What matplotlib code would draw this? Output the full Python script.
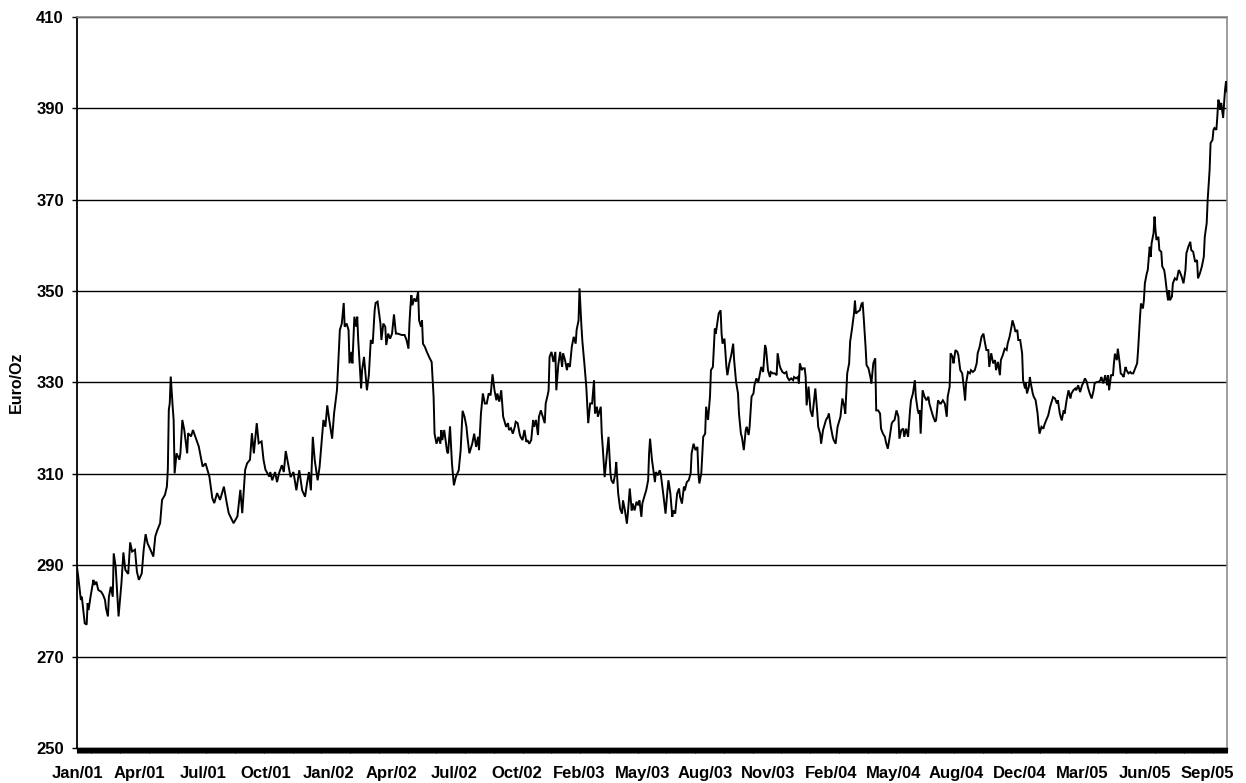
import matplotlib
matplotlib.use("Agg")
import matplotlib.pyplot as plt
import numpy as np

# ---------------- data ----------------
# trading-day index since the first fixing of Jan 2001, and gold price in EUR/oz
trade_day = [
    0, 1, 4, 5, 8, 10, 11, 12, 14, 17, 18, 20, 22, 25, 27, 29, 30, 32, 33, 35, 37, 38, 40, 42, 43,
    46, 48, 50, 53, 55, 57, 60, 62, 64, 67, 69, 71, 73, 76, 79, 81, 83, 86, 88, 91, 93, 94, 95, 96,
    97, 99, 100, 101, 103, 106, 107, 109, 111, 114, 115, 118, 120, 123, 126, 130, 133, 137, 140,
    142, 145, 148, 152, 155, 157, 162, 166, 169, 171, 174, 176, 179, 181, 183, 186, 188, 191, 193,
    195, 199, 200, 202, 205, 207, 209, 212, 214, 216, 219, 221, 224, 227, 230, 233, 236, 238, 240,
    242, 244, 246, 249, 251, 255, 257, 259, 261, 264, 266, 269, 270, 272, 274, 276, 277, 279, 281,
    282, 284, 285, 287, 289, 290, 291, 294, 295, 297, 300, 302, 304, 306, 308, 309, 311, 313, 314,
    315, 317, 319, 320, 322, 324, 326, 328, 330, 332, 336, 339, 341, 343, 344, 345, 346, 347, 349,
    351, 353, 354, 356, 357, 358, 360, 362, 365, 367, 369, 370, 372, 374, 376, 377, 378, 380, 383,
    384, 386, 388, 390, 392, 395, 397, 399, 401, 403, 404, 406, 408, 409, 411, 413, 415, 416, 418,
    420, 422, 424, 426, 428, 430, 432, 434, 435, 437, 439, 441, 442, 444, 446, 447, 449, 451, 453,
    454, 456, 458, 459, 461, 463, 465, 466, 468, 470, 472, 473, 475, 477, 478, 480, 482, 484, 485,
    487, 488, 489, 491, 493, 495, 496, 498, 500, 502, 503, 505, 507, 508, 510, 512, 514, 516, 517,
    519, 520, 522, 523, 525, 527, 529, 531, 533, 535, 536, 538, 539, 542, 543, 544, 546, 548, 550,
    552, 553, 555, 557, 558, 560, 562, 564, 565, 567, 569, 570, 572, 574, 575, 577, 579, 581, 582,
    584, 585, 587, 589, 591, 592, 593, 595, 596, 598, 599, 601, 603, 604, 607, 609, 611, 612, 614,
    616, 617, 619, 621, 623, 624, 626, 628, 629, 631, 633, 635, 636, 638, 640, 642, 643, 644, 646,
    648, 650, 651, 653, 655, 656, 658, 660, 661, 663, 664, 666, 667, 668, 670, 672, 673, 675, 677,
    679, 680, 682, 684, 685, 687, 688, 690, 692, 693, 695, 696, 698, 700, 701, 703, 705, 706, 708,
    710, 712, 713, 715, 717, 718, 720, 722, 724, 725, 727, 728, 730, 732, 734, 735, 737, 739, 741,
    742, 744, 746, 747, 748, 750, 751, 753, 754, 755, 757, 759, 761, 762, 764, 766, 767, 769, 770,
    772, 773, 775, 777, 778, 780, 782, 783, 785, 787, 789, 790, 792, 794, 795, 797, 799, 800, 802,
    804, 805, 806, 808, 810, 812, 813, 814, 816, 817, 819, 821, 822, 824, 826, 827, 829, 831, 832,
    834, 836, 837, 839, 841, 843, 844, 846, 848, 850, 851, 853, 855, 856, 858, 860, 862, 863, 865,
    867, 868, 870, 871, 872, 873, 875, 877, 879, 881, 882, 884, 886, 888, 889, 891, 893, 894, 896,
    898, 900, 901, 903, 904, 906, 907, 909, 911, 912, 914, 916, 918, 919, 920, 922, 924, 925, 927,
    929, 931, 932, 934, 936, 938, 939, 941, 943, 944, 946, 948, 950, 951, 953, 955, 956, 958, 960,
    962, 963, 965, 967, 968, 970, 971, 973, 974, 976, 978, 979, 981, 982, 983, 985, 986, 987, 989,
    990, 992, 994, 995, 996, 998, 1000, 1001, 1003, 1005, 1007, 1009, 1010, 1012, 1014, 1015, 1017,
    1019, 1021, 1022, 1024, 1026, 1028, 1029, 1031, 1033, 1034, 1036, 1038, 1040, 1041, 1043, 1045,
    1046, 1048, 1050, 1052, 1053, 1055, 1057, 1059, 1060, 1062, 1064, 1066, 1067, 1068, 1070, 1072,
    1073, 1074, 1076, 1077, 1079, 1080, 1082, 1083, 1085, 1086, 1088, 1090, 1091, 1093, 1095, 1097,
    1098, 1099, 1100, 1101, 1103, 1104, 1105, 1107, 1108, 1110, 1111, 1112, 1114, 1115, 1116, 1117,
    1119, 1120, 1122, 1123, 1125, 1126, 1128, 1129, 1130, 1131, 1133, 1134, 1136, 1138, 1140, 1141,
    1143, 1145, 1147, 1148, 1150, 1152, 1153, 1155, 1157, 1159, 1160, 1162, 1164, 1166, 1167, 1169,
    1170, 1172, 1173, 1175, 1176, 1177, 1179, 1180, 1181, 1182, 1183, 1184, 1186, 1187, 1188, 1189,
    1190,
]

eur_per_oz = [
    289.5, 288.0, 282.4, 283.1, 277.3, 277.0, 281.7, 280.2, 283.1, 286.8, 285.7, 286.4, 284.6, 284.2,
    283.5, 282.4, 280.6, 278.8, 283.1, 285.3, 283.1, 292.6, 289.7, 282.4, 278.8, 286.1, 292.8, 289.0,
    288.1, 295.0, 293.0, 293.4, 288.6, 286.8, 288.2, 293.4, 296.8, 294.8, 293.4, 291.9, 296.3, 297.6,
    299.2, 304.3, 305.4, 307.2, 310.9, 324.0, 325.5, 331.3, 324.7, 321.8, 310.1, 314.5, 313.1, 314.5,
    321.8, 319.6, 314.5, 318.9, 318.2, 319.6, 317.8, 316.0, 311.6, 312.3, 309.4, 304.7, 303.6, 305.8,
    304.3, 307.2, 303.6, 301.4, 299.2, 300.7, 306.5, 301.4, 310.9, 312.3, 313.1, 318.9, 314.5, 321.1,
    316.7, 317.1, 313.1, 310.9, 309.4, 310.4, 308.6, 310.4, 308.2, 310.1, 311.9, 310.4, 315.0, 311.5,
    309.3, 310.4, 306.4, 310.8, 306.4, 305.0, 307.9, 310.4, 306.4, 318.1, 313.0, 308.6, 311.5, 321.8,
    320.3, 325.0, 321.8, 317.7, 323.2, 328.3, 332.7, 341.5, 342.9, 347.4, 342.2, 342.9, 341.5, 334.2,
    336.7, 334.2, 344.4, 342.2, 344.4, 339.3, 328.7, 332.7, 335.6, 328.3, 331.6, 339.3, 338.5, 345.8,
    347.4, 347.7, 344.4, 342.9, 339.3, 342.9, 342.2, 338.2, 340.7, 339.6, 340.7, 344.9, 340.7, 340.7,
    340.4, 340.4, 339.3, 337.4, 342.9, 346.6, 349.1, 346.9, 348.4, 347.7, 349.9, 343.6, 342.2, 343.6,
    338.5, 337.8, 336.7, 335.3, 334.5, 326.9, 318.8, 316.6, 318.1, 316.6, 319.6, 317.4, 319.6, 314.8,
    314.5, 320.4, 312.3, 307.5, 309.3, 310.8, 315.2, 323.8, 322.5, 320.3, 318.1, 314.5, 315.9, 316.6,
    318.8, 315.9, 318.1, 315.2, 323.2, 327.6, 325.4, 325.4, 327.6, 327.2, 331.8, 328.3, 326.1, 327.6,
    325.8, 328.3, 322.5, 321.8, 320.3, 321.1, 319.6, 320.0, 318.8, 320.3, 321.4, 321.1, 318.8, 318.1,
    317.4, 319.6, 317.0, 317.4, 316.6, 317.4, 321.8, 320.3, 321.8, 318.5, 322.5, 323.9, 322.5, 321.1,
    325.4, 327.2, 328.3, 335.6, 336.7, 334.5, 336.7, 328.3, 333.8, 336.7, 333.4, 336.4, 334.9, 332.7,
    334.2, 333.4, 337.8, 340.0, 338.5, 341.5, 343.6, 350.6, 342.2, 338.9, 334.2, 329.1, 321.1, 325.4,
    325.4, 330.5, 323.2, 324.7, 322.5, 324.7, 318.8, 315.9, 309.3, 313.7, 318.1, 310.1, 308.6, 307.9,
    310.1, 312.6, 305.7, 302.4, 301.3, 304.2, 302.0, 299.1, 301.3, 306.8, 302.0, 303.5, 302.0, 303.9,
    303.1, 304.2, 300.6, 303.5, 305.0, 306.4, 308.6, 314.5, 317.7, 313.0, 311.5, 308.2, 310.4, 309.7,
    310.8, 310.1, 305.0, 301.3, 306.4, 308.6, 305.7, 300.6, 302.0, 301.3, 305.7, 306.8, 305.0, 303.5,
    307.2, 306.4, 308.2, 308.6, 310.1, 314.5, 316.6, 315.2, 315.9, 310.1, 307.9, 310.1, 318.1, 318.8,
    324.7, 321.8, 326.9, 332.7, 333.4, 341.8, 340.7, 343.6, 345.1, 345.8, 340.7, 338.5, 339.6, 333.4,
    331.6, 334.2, 336.0, 338.5, 334.9, 330.1, 327.6, 323.2, 318.8, 318.1, 315.2, 319.6, 320.3, 318.5,
    320.3, 326.9, 327.6, 329.4, 330.9, 330.1, 331.2, 333.4, 332.3, 338.2, 337.4, 332.7, 331.2, 332.3,
    332.0, 332.0, 331.6, 336.4, 333.8, 333.1, 332.3, 332.0, 332.3, 331.2, 330.5, 330.9, 330.5, 331.2,
    330.9, 331.2, 329.8, 334.2, 332.7, 333.1, 333.1, 331.2, 325.0, 329.1, 323.9, 322.5, 324.7, 328.7,
    323.5, 320.3, 318.8, 316.6, 319.6, 320.3, 321.8, 322.5, 323.2, 320.3, 318.1, 317.4, 316.6, 320.3,
    321.8, 322.5, 326.5, 324.7, 323.2, 332.0, 334.2, 338.9, 341.8, 345.1, 347.9, 345.1, 345.5, 345.8,
    347.3, 347.4, 344.4, 337.8, 333.8, 333.1, 331.2, 329.8, 334.2, 335.3, 323.9, 323.9, 323.2, 319.9,
    318.8, 318.1, 317.0, 315.5, 318.1, 321.0, 321.4, 321.8, 323.9, 322.5, 317.7, 319.6, 319.9, 318.1,
    319.9, 318.1, 323.9, 326.1, 327.6, 330.5, 326.9, 323.9, 323.2, 323.9, 318.8, 328.3, 326.9, 326.1,
    326.9, 325.4, 323.9, 322.5, 321.4, 321.8, 326.1, 325.4, 325.4, 326.1, 325.4, 322.5, 326.9, 329.1,
    336.4, 335.6, 334.2, 337.1, 336.7, 336.0, 332.7, 332.0, 328.3, 326.1, 329.8, 332.3, 332.0, 332.7,
    332.3, 332.7, 334.2, 336.4, 337.8, 340.0, 340.7, 339.3, 337.1, 337.1, 333.4, 336.4, 334.2, 334.9,
    332.7, 334.5, 331.6, 334.9, 336.0, 337.4, 337.1, 338.5, 340.0, 342.2, 343.6, 342.2, 341.1, 341.5,
    339.3, 339.3, 336.4, 330.5, 328.7, 329.8, 327.6, 329.1, 331.2, 329.8, 327.6, 326.9, 326.1, 323.2,
    320.7, 318.8, 320.3, 319.9, 320.7, 321.8, 322.8, 324.7, 326.1, 326.8, 326.5, 325.4, 326.1, 323.2,
    321.7, 323.9, 323.2, 326.1, 328.3, 326.5, 327.6, 328.3, 328.7, 328.3, 329.4, 327.9, 329.4, 329.8,
    330.9, 330.1, 329.0, 327.6, 326.5, 328.3, 329.8, 330.1, 330.1, 330.5, 331.2, 329.8, 331.6, 329.4,
    331.6, 328.3, 331.6, 331.6, 334.2, 336.3, 334.9, 337.4, 334.2, 332.0, 331.6, 331.2, 333.4, 332.7,
    332.0, 332.3, 332.0, 332.0, 333.1, 334.2, 337.1, 340.7, 344.4, 347.3, 346.2, 348.0, 351.7, 353.9,
    354.6, 359.7, 357.5, 360.5, 362.7, 366.3, 363.4, 361.2, 361.9, 359.0, 358.6, 355.4, 354.6, 353.2,
    349.5, 348.0, 350.2, 348.0, 348.8, 351.7, 352.8, 352.4, 354.6, 354.3, 353.2, 351.7, 354.6, 358.3,
    359.7, 360.8, 359.0, 358.6, 356.4, 356.8, 352.8, 353.9, 355.4, 357.5, 361.9, 364.9, 370.0, 376.5,
    382.4, 383.1, 385.3, 385.7, 385.3, 388.2, 391.9, 391.2, 389.7, 391.2, 387.9, 391.2, 394.1, 395.9,
    393.7,
]

n_days = 1191          # number of daily fixings on the category axis
label_every = 65       # a category label every 65 fixings
x_labels = ["Jan/01", "Apr/01", "Jul/01", "Oct/01", "Jan/02", "Apr/02", "Jul/02", "Oct/02",
            "Feb/03", "May/03", "Aug/03", "Nov/03", "Feb/04", "May/04", "Aug/04", "Dec/04",
            "Mar/05", "Jun/05", "Sep/05"]
y_ticks = [250, 270, 290, 310, 330, 350, 370, 390, 410]
y_title = "Euro/Oz"

# ---------------- figure ----------------
plt.rcParams["font.family"] = ["Liberation Sans", "DejaVu Sans"]
plt.rcParams["font.weight"] = "bold"

fig = plt.figure(figsize=(12.46, 7.83), dpi=100)
ax = fig.add_axes([77 / 1246, 1 - 748 / 783, 1150 / 1246, 731 / 783])

ax.plot(trade_day, eur_per_oz, color="black", lw=1.4, solid_joinstyle="miter", zorder=3)

ax.set_xlim(0, n_days - 1)
ax.set_ylim(y_ticks[0], y_ticks[-1])

# x axis: category labels and dense daily tick marks
major_pos = np.arange(len(x_labels)) * label_every
ax.set_xticks(major_pos)
ax.set_xticklabels(x_labels, fontsize=12, fontweight="bold")
ax.set_xticks(np.arange(n_days), minor=True)
ax.tick_params(axis="x", which="both", direction="out", length=3.8, width=0.8,
               color="black", pad=9.5)

# y axis
ax.set_yticks(y_ticks)
ax.set_yticklabels([str(v) for v in y_ticks], fontsize=12, fontweight="bold")
ax.tick_params(axis="y", which="major", direction="out", length=3.5, width=1.0,
               color="black", pad=6)
ax.set_ylabel(y_title, fontsize=11.5, fontweight="bold")
ax.yaxis.set_label_coords(-0.046, 0.5)

# grid and frame
ax.set_axisbelow(True)
ax.yaxis.grid(True, color="black", lw=1.0)
ax.xaxis.grid(False)
ax.spines["left"].set_color("black")
ax.spines["left"].set_linewidth(1.3)
ax.spines["bottom"].set_color("black")
ax.spines["bottom"].set_linewidth(1.0)
for side in ("top", "right"):
    ax.spines[side].set_color("#8c8c8c")
    ax.spines[side].set_linewidth(1.2)

fig.savefig("out.png", dpi=100, facecolor="white")
